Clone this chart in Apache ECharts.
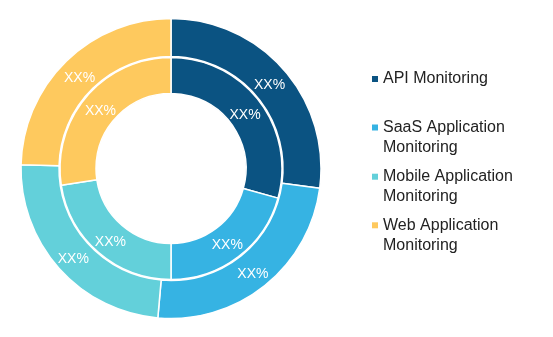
<!DOCTYPE html>
<html>
<head>
<meta charset="utf-8">
<script src="https://cdn.jsdelivr.net/npm/echarts@6/dist/echarts.min.js"></script>
<style>
html,body{margin:0;padding:0;background:#fff;}
#chart{width:553px;height:337px;}
</style>
</head>
<body>
<div id="chart"></div>
<script>
const categories = ['API Monitoring', 'SaaS Application Monitoring', 'Mobile Application Monitoring', 'Web Application Monitoring'];
const legendLabels = ['API Monitoring', 'SaaS Application\nMonitoring', 'Mobile Application\nMonitoring', 'Web Application\nMonitoring'];
const outerValues = [27.1, 24.3, 24.0, 24.6];
const innerValues = [29.3, 20.7, 22.6, 27.4];
const sliceLabels = ['XX%', 'XX%', 'XX%', 'XX%'];
const colors = ['#0b5382', '#36b3e3', '#63d0da', '#fec95e'];

const CX = 171, CY = 168.5;
const outerRadius = [112, 150];
const innerRadius = [75, 111];
const legendTops = [69, 97.5, 146.7, 195.3];

const chart = echarts.init(document.getElementById('chart'), null, {renderer: 'canvas'});

function pieData(values) {
  return values.map((v, i) => ({name: categories[i], value: v, label: {formatter: sliceLabels[i]}}));
}

function midRadiusLayout(radius) {
  const target = (radius[0] + radius[1]) / 2;
  return function (p) {
    const r = p.labelRect;
    const lx = r.x + r.width / 2, ly = r.y + r.height / 2;
    const dx = lx - CX, dy = ly - CY;
    const d = Math.hypot(dx, dy) || 1;
    const k = target / d;
    return {x: CX + dx * k, y: CY + dy * k + 3, align: 'center', verticalAlign: 'middle'};
  };
}

const labelStyle = {
  show: true,
  position: 'inside',
  color: '#ffffff',
  fontFamily: 'Liberation Sans',
  fontSize: 14
};

const legends = categories.map((c, i) => ({
  data: [c],
  orient: 'vertical',
  left: 372,
  top: legendTops[i],
  padding: 0,
  icon: 'rect',
  itemWidth: 6,
  itemHeight: 6,
  itemStyle: {borderWidth: 0},
  selectedMode: false,
  formatter: () => (legendLabels[i].indexOf('\n') >= 0 ? '\n' + legendLabels[i] : legendLabels[i]),
  textStyle: {
    color: '#222222',
    fontFamily: 'Liberation Sans',
    fontSize: 16,
    lineHeight: 20
  }
}));

chart.setOption({
  animation: false,
  color: colors,
  legend: legends,
  series: [
    {
      type: 'pie',
      center: [CX, CY],
      radius: outerRadius,
      startAngle: 90,
      clockwise: true,
      avoidLabelOverlap: false,
      silent: true,
      itemStyle: {borderColor: '#ffffff', borderWidth: 1.5},
      label: labelStyle,
      labelLine: {show: false},
      labelLayout: midRadiusLayout(outerRadius),
      data: pieData(outerValues)
    },
    {
      type: 'pie',
      center: [CX, CY],
      radius: innerRadius,
      startAngle: 90,
      clockwise: true,
      avoidLabelOverlap: false,
      silent: true,
      itemStyle: {borderColor: '#ffffff', borderWidth: 1.5},
      label: labelStyle,
      labelLine: {show: false},
      labelLayout: midRadiusLayout(innerRadius),
      data: pieData(innerValues)
    }
  ]
});
</script>
</body>
</html>
